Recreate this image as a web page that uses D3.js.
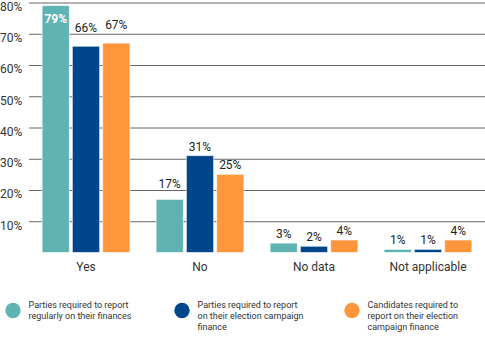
<!DOCTYPE html>
<html><head><meta charset="utf-8">
<script src="https://cdn.jsdelivr.net/npm/d3@7"></script>
<style>body{margin:0;background:#fff}svg{display:block;font-family:Roboto,sans-serif}</style>
</head><body><svg id="c" width="485" height="337"></svg>
<script>
const categories = ["Yes", "No", "No data", "Not applicable"];
const seriesNames = ["Parties required to report regularly on their finances",
  "Parties required to report on their election campaign finance",
  "Candidates required to report on their election campaign finance"];
const legendLines = [["Parties required to report","regularly on their finances"],
  ["Parties required to report","on their election campaign","finance"],
  ["Candidates required to","report on their election","campaign finance"]];
const partiesRegular = [79, 17, 3, 1];
const partiesCampaign = [66, 31, 2, 1];
const candidatesCampaign = [67, 25, 4, 4];
const colors = ["#5fb3b3", "#00468a", "#ff963b"];
const yTicks = [10, 20, 30, 40, 50, 60, 70, 80];
const series = [partiesRegular, partiesCampaign, candidatesCampaign];

const svg = d3.select("#c");
const x = d3.scaleBand().domain(categories).range([29, 485]).paddingInner(0.23).paddingOuter(0.115);
const y = d3.scaleLinear().domain([0, 80]).range([252.5, 2.5]);
const xs = d3.scaleBand().domain(d3.range(3)).range([0, x.bandwidth()]).paddingInner(0.1);

const yAxis = svg.append("g").attr("transform", "translate(29,0)")
  .call(d3.axisLeft(y).tickValues(yTicks).tickSize(-456).tickFormat(d => d + "%"));
yAxis.select(".domain").remove();
yAxis.selectAll(".tick line").attr("stroke", "#666").attr("stroke-width", 1);
yAxis.selectAll(".tick text").attr("x", -29).attr("dy", "0.32em").attr("transform", "translate(0,4)")
  .attr("text-anchor", "start")
  .attr("fill", "#333").style("font-size", "12px").style("font-family", "Roboto,sans-serif");

// extra lift for labels that were moved up to avoid crowding
const lift = (i, j) => (i === 0 && (j === 1 || j === 2)) ? 14 : (i === 1 && j === 0) ? 11 : 5;

categories.forEach((c, i) => {
  series.forEach((s, j) => {
    const bx = x(c) + xs(j), bw = xs.bandwidth();
    svg.append("rect").attr("x", bx).attr("y", y(s[i])).attr("width", bw)
      .attr("height", y(0) - y(s[i])).attr("fill", colors[j])
      .attr("stroke", "#fff").attr("stroke-opacity", 0.6).attr("stroke-width", 1);
    const inside = (i === 0 && j === 0);
    svg.append("text").attr("x", bx + bw / 2)
      .attr("y", inside ? y(s[i]) + 17 : y(s[i]) - lift(i, j))
      .attr("text-anchor", "middle").style("font-size", "12px")
      .style("font-weight", inside ? "bold" : "normal")
      .attr("fill", inside ? "#fff" : "#222").text(s[i] + "%");
  });
});

const xAxis = svg.append("g").attr("transform", "translate(0,252)")
  .call(d3.axisBottom(x).tickSize(0).tickPadding(10));
xAxis.select(".domain").remove();
xAxis.selectAll("text").attr("fill", "#333").style("font-size", "12px").style("font-family", "Roboto,sans-serif");

const legX = [13, 182, 352];
const leg = svg.append("g");
seriesNames.forEach((n, j) => {
  const g = leg.append("g").attr("transform", `translate(${legX[j]},310.5)`);
  g.append("circle").attr("r", 7.7).attr("fill", colors[j]);
  const lines = legendLines[j];
  const t = g.append("text").style("font-size", "9px").attr("fill", "#333");
  lines.forEach((l, k) => t.append("tspan").attr("x", 15.5).attr("y", -3 + k * 11).text(l));
});
</script></body></html>
